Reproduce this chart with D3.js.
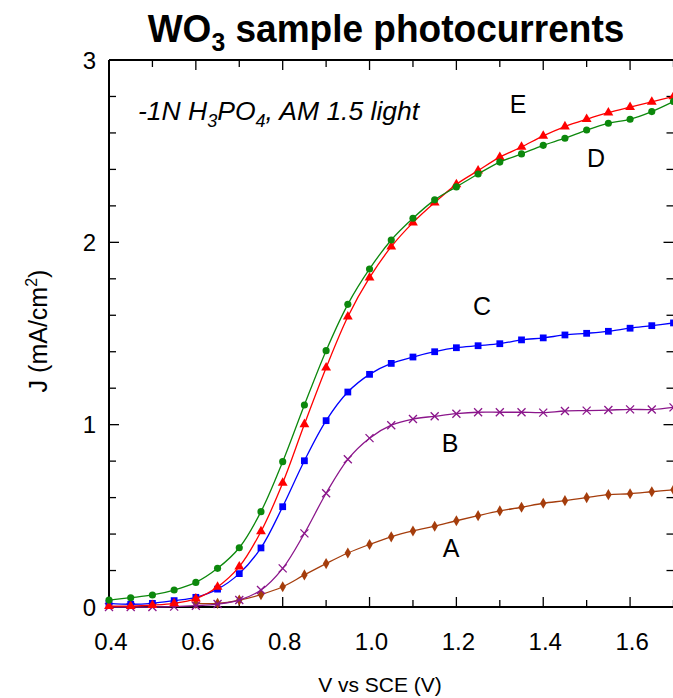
<!DOCTYPE html>
<html><head><meta charset="utf-8">
<script src="https://cdn.jsdelivr.net/npm/d3@7"></script>
<style>body{margin:0;background:#fff;} text{font-family:"Liberation Sans",Arial,sans-serif;}</style>
</head><body><svg id="c" width="673" height="698"></svg>
<script>
const xValues = [0.4,0.45,0.5,0.55,0.6,0.65,0.7,0.75,0.8,0.85,0.9,0.95,1.0,1.05,1.1,1.15,1.2,1.25,1.3,1.35,1.4,1.45,1.5,1.55,1.6,1.65,1.7];
const xValuesA = xValues.slice(4);
const seriesD = [0.038,0.051,0.066,0.093,0.135,0.212,0.325,0.523,0.797,1.108,1.406,1.66,1.854,2.013,2.132,2.233,2.304,2.375,2.44,2.485,2.532,2.571,2.616,2.653,2.675,2.717,2.772];
const seriesE = [0.005,0.005,0.01,0.02,0.046,0.11,0.221,0.414,0.68,1.002,1.312,1.592,1.806,1.976,2.108,2.218,2.318,2.393,2.467,2.523,2.584,2.635,2.675,2.711,2.741,2.77,2.80];
const seriesC = [0.02,0.015,0.02,0.035,0.053,0.098,0.183,0.324,0.55,0.802,1.022,1.179,1.276,1.336,1.371,1.40,1.422,1.433,1.444,1.465,1.476,1.492,1.501,1.512,1.529,1.543,1.558];
const seriesB = [0,0,0,0.002,0.007,0.016,0.038,0.093,0.212,0.404,0.624,0.81,0.926,0.997,1.031,1.046,1.06,1.068,1.068,1.068,1.066,1.075,1.077,1.08,1.084,1.083,1.095];
const seriesA = [0.02,0.02,0.038,0.068,0.111,0.176,0.238,0.296,0.343,0.385,0.417,0.443,0.473,0.501,0.527,0.547,0.569,0.583,0.60,0.616,0.621,0.632,0.643];
const xTickLabels = ["0.4","0.6","0.8","1.0","1.2","1.4","1.6"];
const yTickLabels = ["0","1","2","3"];

const svg = d3.select("#c");
const L = 109, R = 673.5, T = 60, B = 607;
const x = d3.scaleLinear().domain([0.4, 1.7]).range([L, R]);
const y = d3.scaleLinear().domain([0, 3]).range([B, T]);

// Title
const title = svg.append("text").attr("x", 0).attr("y", 0).attr("text-anchor", "middle")
  .attr("font-size", 39).attr("font-weight", "bold")
  .attr("transform", "translate(386,42) scale(0.95,1)");
title.append("tspan").text("WO");
title.append("tspan").text("3").attr("font-size", 26).attr("dy", 9);
title.append("tspan").text(" sample photocurrents").attr("dy", -9);

// Ticks
const g = svg.append("g");
const minorX = d3.range(0.4, 1.75, 0.1).map(v => +v.toFixed(2));
minorX.forEach(v => {
  const major = Math.abs(Math.round(v * 10) % 2) === 0;
  const len = major ? 10 : 7;
  g.append("line").attr("x1", x(v)).attr("x2", x(v)).attr("y1", B).attr("y2", B - len).attr("stroke", "#000").attr("stroke-width", 1.3);
  g.append("line").attr("x1", x(v)).attr("x2", x(v)).attr("y1", T).attr("y2", T + len).attr("stroke", "#000").attr("stroke-width", 1.3);
});
const minorY = d3.range(0, 3.01, 0.2).map(v => +v.toFixed(2));
minorY.forEach(v => {
  const major = Math.abs(v - Math.round(v)) < 1e-6;
  const len = major ? 10 : 7;
  g.append("line").attr("x1", L).attr("x2", L + len).attr("y1", y(v)).attr("y2", y(v)).attr("stroke", "#000").attr("stroke-width", 1.3);
  g.append("line").attr("x1", R).attr("x2", R - len).attr("y1", y(v)).attr("y2", y(v)).attr("stroke", "#000").attr("stroke-width", 1.3);
});

// Frame
g.append("line").attr("x1", L).attr("x2", L).attr("y1", T).attr("y2", B).attr("stroke", "#000").attr("stroke-width", 2);
g.append("line").attr("x1", L).attr("x2", R).attr("y1", T).attr("y2", T).attr("stroke", "#000").attr("stroke-width", 2);
g.append("line").attr("x1", L).attr("x2", R).attr("y1", B).attr("y2", B).attr("stroke", "#000").attr("stroke-width", 2);

// Tick labels
xTickLabels.forEach(t => {
  svg.append("text").attr("x", x(+t) + 2).attr("y", 650).attr("text-anchor", "middle").attr("font-size", 24).text(t);
});
yTickLabels.forEach(t => {
  svg.append("text").attr("x", 96).attr("y", y(+t) + 8.5).attr("text-anchor", "end").attr("font-size", 24).text(t);
});

// Axis titles
svg.append("text").attr("x", 380).attr("y", 692).attr("text-anchor", "middle").attr("font-size", 21).text("V vs SCE (V)");
const yt = svg.append("text").attr("transform", "translate(47,331) rotate(-90)").attr("text-anchor", "middle").attr("font-size", 25);
yt.append("tspan").text("J (mA/cm");
yt.append("tspan").text("2").attr("font-size", 16).attr("dy", -10);
yt.append("tspan").text(")").attr("dy", 10);

// Annotation
const ann = svg.append("text").attr("x", 138).attr("y", 120).attr("font-size", 26.5).attr("font-style", "italic");
ann.append("tspan").text("-1N H");
ann.append("tspan").text("3").attr("font-size", 18).attr("dy", 7);
ann.append("tspan").text("PO").attr("dy", -7);
ann.append("tspan").text("4").attr("font-size", 18).attr("dy", 7);
ann.append("tspan").text(", AM 1.5 light").attr("dy", -7);

// Series
const series = [
  {name: "A", xs: xValuesA, ys: seriesA, color: "#a53d0c", sym: d3.symbolDiamond, size: 36},
  {name: "B", xs: xValues, ys: seriesB, color: "#8b168b", sym: "x", size: 0},
  {name: "C", xs: xValues, ys: seriesC, color: "#0000ff", sym: d3.symbolSquare, size: 46},
  {name: "E", xs: xValues, ys: seriesE, color: "#ff0000", sym: d3.symbolTriangle, size: 42},
  {name: "D", xs: xValues, ys: seriesD, color: "#0c880c", sym: d3.symbolCircle, size: 40},
];
const line = d3.line().x(d => x(d[0])).y(d => y(d[1])).curve(d3.curveCatmullRom.alpha(0.5));
series.forEach(s => {
  const pts = s.xs.map((v, i) => [v, s.ys[i]]);
  svg.append("path").datum(pts).attr("d", line).attr("fill", "none").attr("stroke", s.color).attr("stroke-width", 1.3);
  const mg = svg.append("g");
  pts.forEach(p => {
    const cx = x(p[0]), cy = y(p[1]);
    if (s.sym === "x") {
      const r = 4;
      mg.append("path").attr("d", `M${cx-r},${cy-r}L${cx+r},${cy+r}M${cx-r},${cy+r}L${cx+r},${cy-r}`)
        .attr("stroke", s.color).attr("stroke-width", 1.3).attr("fill", "none");
    } else {
      mg.append("path").attr("d", d3.symbol().type(s.sym).size(s.size)()).attr("transform", `translate(${cx},${cy})`).attr("fill", s.color);
    }
  });
});

// Curve labels
const curveLabels = [["E", 518, 113], ["D", 596, 167], ["C", 482, 315], ["B", 450, 452], ["A", 451, 557]];
curveLabels.forEach(c => svg.append("text").attr("x", c[1]).attr("y", c[2]).attr("text-anchor", "middle").attr("font-size", 25).text(c[0]));
</script></body></html>
